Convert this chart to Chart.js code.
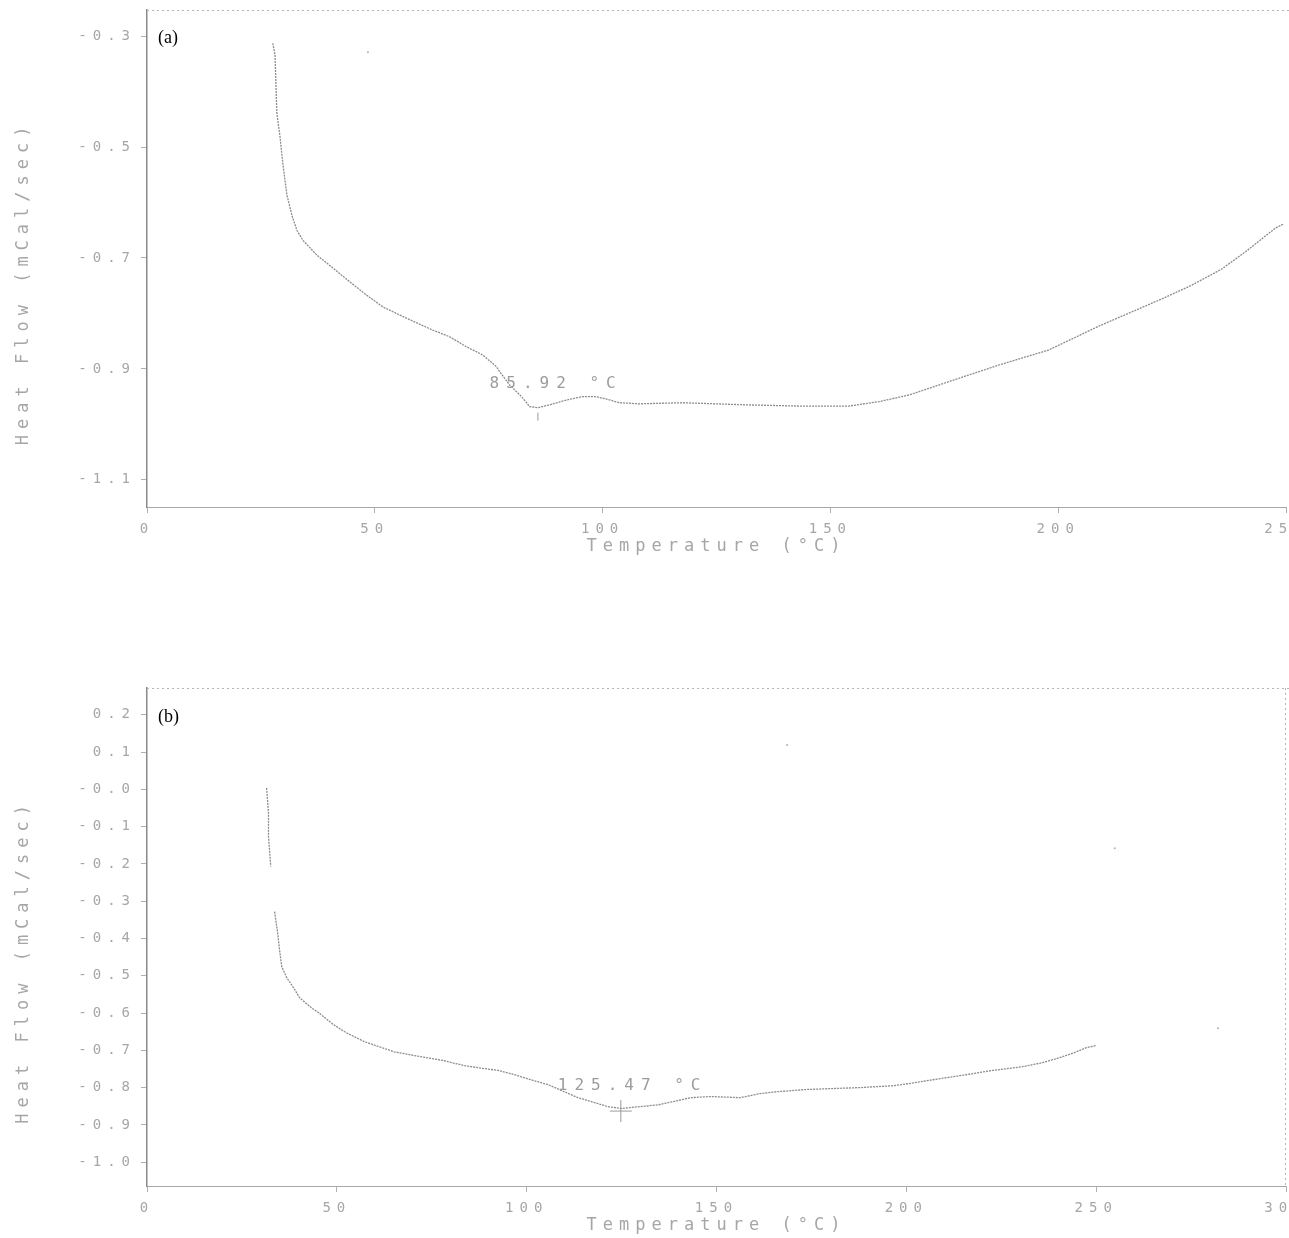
<!DOCTYPE html>
<html>
<head>
<meta charset="utf-8">
<script src="https://cdn.jsdelivr.net/npm/chart.js@4.4.1/dist/chart.umd.min.js"></script>
<style>
  html, body { margin: 0; padding: 0; background: #fff; overflow: hidden; }
  body { width: 1289px; height: 1238px; position: relative; }
  /* panels are a bit wider than the window so the last x label is cut off at the edge */
  .panel { position: absolute; left: 0; width: 1330px; }
  #boxA { top: 0; height: 563px; }
  #boxB { top: 644px; height: 594px; }
</style>
</head>
<body>
<div class="panel" id="boxA"><canvas id="chartA"></canvas></div>
<div class="panel" id="boxB"><canvas id="chartB"></canvas></div>
<script>
/* =================================================================
   DSC THERMOGRAMS (a) AND (b)
   ================================================================= */

// --- panel (a) ---
const tempA = [27.6, 28.1, 28.5, 29.2, 29.8, 30.7, 31.8, 32.9, 34.2, 37.3, 40.8, 44.5, 48.2, 51.7, 55.5,
    59.2, 62.7, 66.4, 70.1, 73.7, 76.7, 77.4, 79.6, 82.2, 84.0, 85.7, 88.3, 92.1, 95.6, 98.6, 101.5,
    103.7, 108.1, 117.5, 132.2, 143.1, 154.1, 160.7, 167.3, 176.0, 187.0, 197.9, 208.9, 222.7, 229.1,
    235.9, 241.1, 247.7, 249.4];
const flowA = [-0.313, -0.334, -0.439, -0.482, -0.529, -0.586, -0.623, -0.650, -0.668, -0.695, -0.718,
    -0.743, -0.767, -0.788, -0.803, -0.817, -0.830, -0.842, -0.860, -0.875, -0.896, -0.905, -0.929,
    -0.950, -0.968, -0.970, -0.965, -0.956, -0.950, -0.950, -0.956, -0.961, -0.963, -0.961, -0.965,
    -0.967, -0.967, -0.959, -0.947, -0.923, -0.893, -0.866, -0.823, -0.774, -0.750, -0.720, -0.689,
    -0.646, -0.639];
const xTicksA = [0, 50, 100, 150, 200, 250];
const xLabelsA = ['0', '50', '100', '150', '200', '250'];
const yTicksA = [-1.1, -0.9, -0.7, -0.5, -0.3];
const yLabelsA = ['-1.1', '-0.9', '-0.7', '-0.5', '-0.3'];
const peakA = { x: 85.8, y: -0.986 };
const noteA = { x: 75.2, y: -0.927, text: '85.92 °C' };
const strayTempA = [48.5];
const strayFlowA = [-0.329];

// --- panel (b) ---
const tempB = [31.5, 32.0, 32.0, 32.6, 33.1, 33.6, 34.4, 34.9, 35.5, 36.8, 38.6, 40.2, 43.3, 45.2, 49.1,
    52.5, 57.3, 65.1, 70.4, 78.3, 83.5, 88.8, 92.5, 96.7, 101.1, 105.6, 113.5, 121.4, 124.8, 130.0,
    134.8, 139.7, 143.2, 148.4, 156.3, 161.5, 166.0, 173.9, 187.8, 196.5, 200.9, 207.0, 214.1, 222.7,
    230.6, 235.9, 240.3, 244.3, 247.4, 250.1];
const flowB = [0.004, -0.063, -0.127, -0.207, null, -0.328, -0.384, -0.430, -0.476, -0.505, -0.532,
    -0.559, -0.586, -0.599, -0.631, -0.653, -0.677, -0.704, -0.714, -0.728, -0.741, -0.749, -0.754,
    -0.765, -0.779, -0.792, -0.827, -0.851, -0.856, -0.851, -0.846, -0.835, -0.827, -0.824, -0.827,
    -0.816, -0.811, -0.805, -0.800, -0.795, -0.789, -0.779, -0.768, -0.754, -0.744, -0.733, -0.720,
    -0.706, -0.693, -0.687];
const xTicksB = [0, 50, 100, 150, 200, 250, 300];
const xLabelsB = ['0', '50', '100', '150', '200', '250', '300'];
const yTicksB = [-1.0, -0.9, -0.8, -0.7, -0.6, -0.5, -0.4, -0.3, -0.2, -0.1, 0.0, 0.1, 0.2];
const yLabelsB = ['-1.0', '-0.9', '-0.8', '-0.7', '-0.6', '-0.5', '-0.4', '-0.3', '-0.2', '-0.1', '-0.0', '0.1', '0.2'];
const peakB = { x: 124.8, y: -0.863 };
const noteB = { x: 108.2, y: -0.795, text: '125.47 °C' };
const strayTempB = [168.6, 254.9, 282.1];
const strayFlowB = [0.119, -0.158, -0.641];

const MONO = '"DejaVu Sans Mono", monospace';
const TEXT_GREY = '#a6a6a6';
const LINE_GREY = '#8c8c8c';

// frame (top / right edge), peak note and panel letter
const framePlugin = {
    id: 'frameNotes',
    beforeLayout(chart) { chart.ctx.letterSpacing = '6px'; },
    beforeDraw(chart) { chart.ctx.letterSpacing = '6px'; },
    afterDatasetsDraw(chart, args, opts) {
        const { ctx, chartArea: a, scales } = chart;
        ctx.save();
        ctx.strokeStyle = '#b4b4b4';
        ctx.lineWidth = 1;
        ctx.setLineDash([2, 3]);
        ctx.beginPath();
        ctx.moveTo(a.left, a.top + 0.5);
        ctx.lineTo(a.right + 3, a.top + 0.5);
        if (opts.rightEdge) {
            ctx.moveTo(a.right - 0.5, a.top);
            ctx.lineTo(a.right - 0.5, a.bottom);
        }
        ctx.stroke();

        ctx.setLineDash([]);
        ctx.letterSpacing = '7px';
        ctx.fillStyle = '#9c9c9c';
        ctx.font = '16px ' + MONO;
        ctx.textBaseline = 'middle';
        ctx.textAlign = 'left';
        ctx.fillText(opts.note.text, scales.x.getPixelForValue(opts.note.x), scales.y.getPixelForValue(opts.note.y));

        ctx.letterSpacing = '0px';
        ctx.fillStyle = '#000';
        ctx.font = '18px "Liberation Serif"';
        ctx.textBaseline = 'top';
        ctx.fillText(opts.panel, a.left + 11, a.top + opts.panelTop);
        ctx.restore();
    }
};

function toPoints(xs, ys) {
    return xs.map((x, i) => ({ x: x, y: ys[i] }));
}

function drawPanel(canvasId, cfg) {
    const ctx = document.getElementById(canvasId).getContext('2d');
    return new Chart(ctx, {
        type: 'scatter',
        data: {
            datasets: [
                {
                    data: toPoints(cfg.temp, cfg.flow),
                    showLine: true,
                    spanGaps: false,
                    borderColor: LINE_GREY,
                    borderWidth: 1.3,
                    borderDash: [2, 1],
                    pointRadius: 0,
                    tension: 0
                },
                {
                    data: [cfg.peak],
                    pointStyle: cfg.peakStyle,
                    rotation: cfg.peakRotation,
                    pointRadius: cfg.peakRadius,
                    borderColor: '#9a9a9a',
                    borderWidth: 1
                },
                {
                    data: toPoints(cfg.strayTemp, cfg.strayFlow),
                    pointRadius: 1,
                    backgroundColor: '#b0b0b0',
                    borderWidth: 0
                }
            ]
        },
        options: {
            responsive: true,
            maintainAspectRatio: false,
            animation: false,
            events: [],
            // right padding = 3px inside the window + 41px of panel beyond it
            layout: { padding: { left: 0, right: 44, top: cfg.padTop, bottom: 0 } },
            plugins: {
                legend: { display: false },
                tooltip: { enabled: false },
                frameNotes: {
                    rightEdge: cfg.rightEdge,
                    note: cfg.note,
                    panel: cfg.panel,
                    panelTop: cfg.panelTop
                }
            },
            scales: {
                x: {
                    type: 'linear',
                    min: 0,
                    max: cfg.xTicks[cfg.xTicks.length - 1],
                    afterBuildTicks: s => { s.ticks = cfg.xTicks.map(v => ({ value: v })); },
                    ticks: {
                        callback: (v, i) => cfg.xLabels[i],
                        color: TEXT_GREY,
                        font: { family: MONO, size: 14 },
                        padding: 8,
                        maxRotation: 0,
                        autoSkip: false
                    },
                    grid: { drawOnChartArea: false, drawTicks: true, tickLength: 6, color: '#b0b0b0' },
                    border: { display: true, color: '#a8a8a8', dash: [2, 3] },
                    title: {
                        display: true,
                        text: 'Temperature (°C)',
                        color: TEXT_GREY,
                        font: { family: MONO, size: 17 },
                        padding: { top: 0, bottom: cfg.titlePad }
                    },
                    afterFit: s => { s.height = cfg.xAxisHeight; }
                },
                y: {
                    type: 'linear',
                    min: cfg.yMin,
                    max: cfg.yMax,
                    afterBuildTicks: s => { s.ticks = cfg.yTicks.map(v => ({ value: v })); },
                    ticks: {
                        callback: (v, i) => cfg.yLabels[i],
                        color: TEXT_GREY,
                        font: { family: MONO, size: 14 },
                        padding: 5,
                        autoSkip: false
                    },
                    grid: { drawOnChartArea: false, drawTicks: true, tickLength: 6, color: '#b0b0b0' },
                    border: { display: true, color: '#8a8a8a', dash: [2, 1], width: 1.5 },
                    title: {
                        display: true,
                        // trailing spaces push the visible title a little lower, as in the scan
                        text: 'Heat Flow (mCal/sec)   ',
                        color: TEXT_GREY,
                        font: { family: MONO, size: 17 },
                        padding: { top: 13, bottom: 0 }
                    },
                    afterFit: s => { s.width = 147; s.paddingTop = 0; s.paddingBottom = 0; }
                }
            }
        },
        plugins: [framePlugin]
    });
}

drawPanel('chartA', {
    temp: tempA, flow: flowA,
    xTicks: xTicksA, xLabels: xLabelsA,
    yTicks: yTicksA, yLabels: yLabelsA,
    yMin: -1.149, yMax: -0.253,
    peak: peakA, peakStyle: 'line', peakRotation: 90, peakRadius: 4,
    note: noteA, strayTemp: strayTempA, strayFlow: strayFlowA,
    panel: '(a)', panelTop: 19, padTop: 10,
    xAxisHeight: 56, titlePad: 6, rightEdge: false
});

drawPanel('chartB', {
    temp: tempB, flow: flowB,
    xTicks: xTicksB, xLabels: xLabelsB,
    yTicks: yTicksB, yLabels: yLabelsB,
    yMin: -1.064, yMax: 0.272,
    peak: peakB, peakStyle: 'cross', peakRotation: 0, peakRadius: 11,
    note: noteB, strayTemp: strayTempB, strayFlow: strayFlowB,
    panel: '(b)', panelTop: 20, padTop: 44,
    xAxisHeight: 52, titlePad: 2, rightEdge: true
});
</script>
</body>
</html>
